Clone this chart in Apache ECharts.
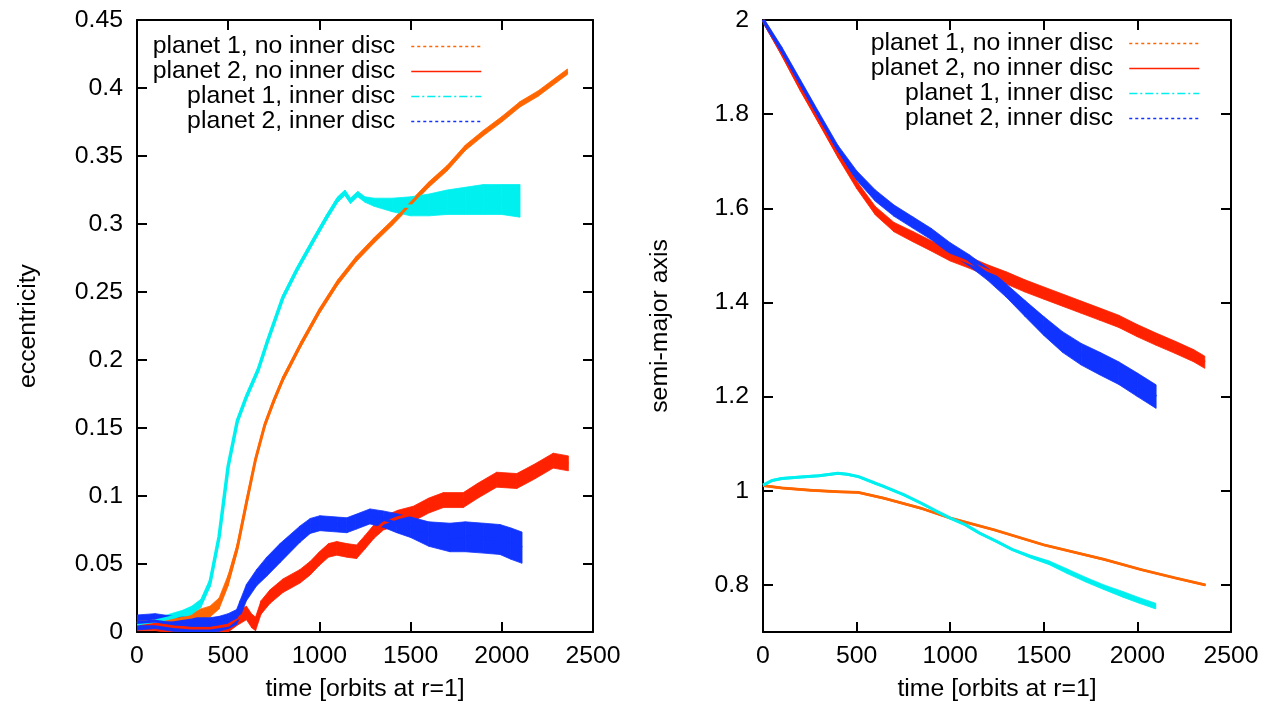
<!DOCTYPE html>
<html><head><meta charset="utf-8">
<script src="https://cdn.jsdelivr.net/npm/echarts@6/dist/echarts.min.js"></script>
<style>html,body{margin:0;padding:0;background:#fff}#c{width:1279px;height:709px}</style>
</head><body><div id="c"></div>
<script>
// ---------- data ----------
const seriesNames = ['planet 1, no inner disc', 'planet 2, no inner disc', 'planet 1, inner disc', 'planet 2, inner disc'];
const xTitle = 'time [orbits at r=1]';
const yTitleLeft = 'eccentricity';
const yTitleRight = 'semi-major axis';
const rightYTicks = [0.8, 1, 1.2, 1.4, 1.6, 1.8, 2];

// Left panel: eccentricity (time, centre value, half band width)
const eccP1NoDiscT = [0,100,200,300,350,400,450,500,550,600,650,700,750,800,900,1000,1100,1200,1300,1400,1500,1600,1700,1800,1900,2000,2100,2200,2300,2360];
const eccP1NoDiscE = [0.007,0.008,0.009,0.011,0.013,0.015,0.021,0.038,0.062,0.095,0.127,0.152,0.170,0.186,0.212,0.236,0.257,0.274,0.288,0.301,0.315,0.329,0.341,0.356,0.367,0.377,0.388,0.396,0.406,0.412];
const eccP1NoDiscH = [0.002,0.002,0.002,0.003,0.004,0.004,0.004,0.004,0.003,0.003,0.002,0.002,0.002,0.002,0.002,0.002,0.002,0.002,0.002,0.002,0.002,0.002,0.002,0.002,0.002,0.002,0.002,0.002,0.002,0.002];

const eccP2NoDiscT = [0,100,200,300,400,500,550,600,630,650,680,729,800,894,950,1000,1050,1095,1150,1204,1250,1300,1351,1430,1515,1600,1680,1789,1870,1972,2082,2180,2282,2365];
const eccP2NoDiscE = [0.006,0.006,0.004,0.003,0.003,0.005,0.010,0.014,0.008,0.006,0.018,0.026,0.034,0.041,0.047,0.054,0.060,0.0615,0.060,0.059,0.066,0.074,0.080,0.084,0.087,0.093,0.097,0.097,0.104,0.112,0.111,0.118,0.126,0.124];
const eccP2NoDiscH = [0.005,0.005,0.005,0.005,0.005,0.005,0.005,0.005,0.005,0.005,0.005,0.005,0.005,0.005,0.005,0.005,0.005,0.005,0.005,0.005,0.005,0.005,0.005,0.0055,0.0055,0.0055,0.0055,0.0055,0.0055,0.0055,0.0055,0.0055,0.0055,0.0055];

const eccP1DiscT = [0,100,200,250,300,350,400,450,500,550,600,665,711,800,875,967,1040,1100,1140,1170,1210,1250,1300,1400,1500,1600,1700,1800,1900,2000,2100];
const eccP1DiscE = [0.006,0.008,0.011,0.013,0.016,0.021,0.036,0.070,0.122,0.155,0.173,0.193,0.212,0.246,0.266,0.288,0.305,0.318,0.323,0.317,0.322,0.318,0.316,0.314,0.313,0.314,0.316,0.317,0.318,0.318,0.317];
const eccP1DiscH = [0.002,0.002,0.003,0.003,0.003,0.003,0.003,0.002,0.002,0.002,0.002,0.002,0.002,0.002,0.002,0.002,0.002,0.002,0.002,0.002,0.002,0.002,0.003,0.005,0.007,0.008,0.009,0.010,0.011,0.011,0.012];

const eccP2DiscT = [0,100,200,300,400,450,500,546,565,600,656,711,784,894,950,1003,1100,1150,1200,1277,1350,1424,1500,1600,1716,1800,1900,1990,2050,2111];
const eccP2DiscE = [0.007,0.008,0.006,0.005,0.005,0.006,0.008,0.011,0.017,0.029,0.040,0.048,0.058,0.072,0.078,0.080,0.079,0.0785,0.081,0.085,0.083,0.080,0.077,0.072,0.0695,0.070,0.069,0.068,0.065,0.062];
const eccP2DiscH = [0.0055,0.0055,0.0055,0.0055,0.0055,0.0055,0.0055,0.0055,0.006,0.006,0.006,0.007,0.007,0.006,0.0055,0.0055,0.0055,0.0055,0.0055,0.0055,0.006,0.007,0.0075,0.009,0.0105,0.011,0.011,0.011,0.0115,0.0115];

// Right panel: semi-major axis (time, centre value, half band width)
const smaP1NoDiscT = [0,100,255,400,510,647,843,1000,1235,1500,1824,2020,2200,2363];
const smaP1NoDiscA = [1.011,1.006,1.001,0.998,0.9965,0.984,0.963,0.942,0.917,0.885,0.854,0.8325,0.815,0.800];
const smaP1NoDiscH = [0.002,0.002,0.002,0.002,0.002,0.002,0.002,0.002,0.002,0.002,0.002,0.002,0.002,0.002];

const smaP2NoDiscT = [0,100,200,300,400,500,600,700,800,900,1000,1100,1200,1300,1400,1500,1600,1700,1800,1900,2000,2100,2200,2300,2360];
const smaP2NoDiscA = [2.0,1.93,1.855,1.785,1.715,1.65,1.595,1.56,1.54,1.52,1.50,1.485,1.468,1.452,1.435,1.42,1.405,1.39,1.375,1.36,1.34,1.322,1.305,1.287,1.273];
const smaP2NoDiscH = [0.005,0.006,0.006,0.006,0.007,0.008,0.009,0.010,0.011,0.011,0.012,0.012,0.012,0.013,0.013,0.013,0.013,0.013,0.013,0.013,0.013,0.013,0.013,0.013,0.013];

const smaP1DiscT = [0,50,100,200,300,400,450,510,600,647,750,843,920,1000,1080,1157,1250,1333,1430,1529,1625,1725,1822,1922,2010,2098];
const smaP1DiscA = [1.012,1.022,1.026,1.029,1.032,1.037,1.035,1.030,1.016,1.009,0.992,0.974,0.958,0.942,0.928,0.910,0.892,0.875,0.860,0.847,0.829,0.811,0.795,0.780,0.767,0.755];
const smaP1DiscH = [0.002,0.002,0.002,0.002,0.002,0.002,0.002,0.002,0.002,0.002,0.002,0.002,0.002,0.002,0.002,0.002,0.002,0.002,0.003,0.004,0.005,0.005,0.005,0.006,0.006,0.006];

const smaP2DiscT = [0,100,200,300,400,500,600,700,800,900,1000,1100,1200,1300,1400,1500,1600,1700,1800,1900,2000,2100];
const smaP2DiscA = [2.0,1.935,1.865,1.795,1.725,1.67,1.627,1.595,1.57,1.545,1.515,1.49,1.46,1.425,1.387,1.35,1.316,1.29,1.27,1.25,1.225,1.2];
const smaP2DiscH = [0.006,0.008,0.008,0.008,0.009,0.010,0.012,0.012,0.012,0.012,0.012,0.012,0.013,0.014,0.017,0.020,0.022,0.023,0.024,0.024,0.025,0.025];

// ---------- styling ----------
const FONT = 'Liberation Sans';
const FS = 24.8;
const COLORS = ['#ff6600', '#ff2200', '#00f0f0', '#1133ff'];
const DASHES = [[3, 3], 'solid', [8, 3, 2, 3], [3, 3]];

function centerLine(name, t, v, color, width, xi, yi) {
  return {
    type: 'line', name: name, xAxisIndex: xi, yAxisIndex: yi,
    data: t.map((x, i) => [x, v[i]]),
    symbol: 'none', showSymbol: false, silent: true, clip: true,
    lineStyle: { color: color, width: width },
    itemStyle: { color: color }
  };
}
// band between (value - half) and (value + half), drawn segment by segment through the axes' scales
function band(t, v, h, color, xi, yi) {
  const segs = [];
  for (let i = 0; i < t.length - 1; i++) {
    segs.push([t[i], v[i] - h[i], v[i] + h[i], t[i + 1], v[i + 1] - h[i + 1], v[i + 1] + h[i + 1]]);
  }
  return {
    type: 'custom', xAxisIndex: xi, yAxisIndex: yi, silent: true, clip: true,
    encode: { x: [0, 3], y: [1, 2, 4, 5] },
    renderItem: function (params, api) {
      const pts = [
        api.coord([api.value(0), api.value(1)]),
        api.coord([api.value(3), api.value(4)]),
        api.coord([api.value(3), api.value(5)]),
        api.coord([api.value(0), api.value(2)])
      ];
      return { type: 'polygon', shape: { points: pts }, style: { fill: color, stroke: color, lineWidth: 0.8 } };
    },
    data: segs
  };
}

const series = [];
const panels = [
  { xi: 0, yi: 0, sets: [
    [eccP1NoDiscT, eccP1NoDiscE, eccP1NoDiscH, 3],
    [eccP2NoDiscT, eccP2NoDiscE, eccP2NoDiscH, 3],
    [eccP1DiscT, eccP1DiscE, eccP1DiscH, 3.5],
    [eccP2DiscT, eccP2DiscE, eccP2DiscH, 3]] },
  { xi: 2, yi: 2, sets: [
    [smaP1NoDiscT, smaP1NoDiscA, smaP1NoDiscH, 2.5],
    [smaP2NoDiscT, smaP2NoDiscA, smaP2NoDiscH, 3],
    [smaP1DiscT, smaP1DiscA, smaP1DiscH, 3],
    [smaP2DiscT, smaP2DiscA, smaP2DiscH, 3]] }
];
panels.forEach(p => {
  p.sets.forEach((s, k) => {
    series.push(band(s[0], s[1], s[2], COLORS[k], p.xi, p.yi));
    series.push(centerLine(seriesNames[k], s[0], s[1], COLORS[k], s[3], p.xi, p.yi));
  });
});

const axisLine = { onZero: false, lineStyle: { color: '#000', width: 2 } };
const axisTick = { inside: true, length: 10, lineStyle: { color: '#000', width: 2 } };
const labelStyle = { fontSize: FS, fontFamily: FONT, color: '#000' };
const plain = v => String(v);

function xAxisDef(gi, bottom) {
  return {
    type: 'value', gridIndex: gi, min: 0, max: 2500, interval: 500,
    position: bottom ? 'bottom' : 'top',
    axisLine: axisLine, axisTick: axisTick,
    axisLabel: Object.assign({ show: bottom, margin: 12, formatter: plain }, labelStyle),
    splitLine: { show: false },
    name: bottom ? xTitle : '', nameLocation: 'middle', nameGap: 45,
    nameTextStyle: labelStyle
  };
}
const yAxes = [
  { type: 'value', gridIndex: 0, min: 0, max: 0.45, interval: 0.05, position: 'left',
    axisLine: axisLine, axisTick: axisTick,
    axisLabel: Object.assign({ margin: 14 }, labelStyle), splitLine: { show: false },
    name: yTitleLeft, nameLocation: 'middle', nameGap: 96, nameTextStyle: labelStyle },
  { type: 'value', gridIndex: 0, min: 0, max: 0.45, interval: 0.05, position: 'right',
    axisLine: axisLine, axisTick: axisTick, axisLabel: { show: false }, splitLine: { show: false } },
  { type: 'value', gridIndex: 1, min: 0.7, max: 2, position: 'left',
    axisLine: axisLine, axisTick: Object.assign({ customValues: rightYTicks }, axisTick),
    axisLabel: Object.assign({ margin: 14, customValues: rightYTicks }, labelStyle), splitLine: { show: false },
    name: yTitleRight, nameLocation: 'middle', nameGap: 90, nameTextStyle: labelStyle },
  { type: 'value', gridIndex: 1, min: 0.7, max: 2, position: 'right',
    axisLine: axisLine, axisTick: Object.assign({ customValues: rightYTicks }, axisTick),
    axisLabel: { show: false }, splitLine: { show: false } }
];

function legendDef(right, top) {
  return {
    orient: 'vertical', align: 'right', right: right, top: top, padding: 0,
    itemWidth: 70, itemHeight: 14, itemGap: 0, selectedMode: false,
    textStyle: { fontSize: FS, fontFamily: FONT, color: '#000', lineHeight: 25, padding: [0, 11, 0, 0] },
    data: seriesNames.map((n, i) => ({
      name: n,
      itemStyle: { opacity: 0 },
      lineStyle: { type: DASHES[i], width: 1.5 }
    }))
  };
}

const chart = echarts.init(document.getElementById('c'), null, { renderer: 'canvas' });
chart.setOption({
  animation: false,
  backgroundColor: '#fff',
  grid: [
    { left: 137, top: 20, width: 456, height: 612, containLabel: false },
    { left: 763, top: 20, width: 468, height: 612, containLabel: false }
  ],
  xAxis: [xAxisDef(0, true), xAxisDef(0, false), xAxisDef(1, true), xAxisDef(1, false)],
  yAxis: yAxes,
  legend: [legendDef(797, 34), legendDef(79, 31)],
  series: series
});
</script>
</body></html>
